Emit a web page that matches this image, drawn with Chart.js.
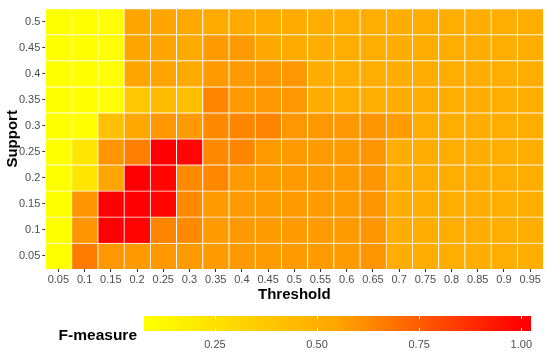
<!DOCTYPE html>
<html><head><meta charset="utf-8">
<script src="https://cdn.jsdelivr.net/npm/chart.js@4/dist/chart.umd.min.js"></script>
<style>
html,body{margin:0;padding:0;background:#fff;}
#wrap{position:relative;width:550px;height:357px;overflow:hidden;background:#fff;}
canvas{position:absolute;left:0;}
#main{top:0;}
#legend{top:302px;}
</style></head><body>
<div id="wrap"><canvas id="main" width="550" height="302"></canvas><canvas id="legend" width="550" height="55"></canvas></div>
<script>
// Categories
const thresholds = ['0.05','0.1','0.15','0.2','0.25','0.3','0.35','0.4','0.45','0.5','0.55','0.6','0.65','0.7','0.75','0.8','0.85','0.9','0.95'];
const supports = ['0.05','0.1','0.15','0.2','0.25','0.3','0.35','0.4','0.45','0.5'];

// F-measure per support row (bottom to top), one value per threshold
const fSupport005 = [0.10,0.667,0.585,0.582,0.585,0.578,0.580,0.582,0.578,0.580,0.578,0.580,0.595,0.510,0.508,0.510,0.512,0.510,0.508];
const fSupport010 = [0.10,0.594,1.000,0.990,0.637,0.624,0.580,0.582,0.580,0.580,0.578,0.580,0.595,0.510,0.510,0.508,0.510,0.512,0.510];
const fSupport015 = [0.10,0.594,1.000,1.000,0.990,0.624,0.580,0.580,0.580,0.580,0.578,0.580,0.595,0.510,0.508,0.510,0.510,0.510,0.512];
const fSupport020 = [0.10,0.225,0.550,1.000,0.990,0.624,0.628,0.580,0.580,0.580,0.580,0.580,0.595,0.510,0.510,0.510,0.508,0.510,0.510];
const fSupport025 = [0.10,0.225,0.594,0.650,1.000,0.980,0.624,0.632,0.580,0.580,0.580,0.580,0.595,0.510,0.510,0.512,0.510,0.508,0.510];
const fSupport030 = [0.10,0.100,0.415,0.535,0.585,0.580,0.624,0.632,0.637,0.585,0.585,0.585,0.590,0.575,0.510,0.510,0.510,0.510,0.510];
const fSupport035 = [0.10,0.100,0.100,0.375,0.440,0.415,0.637,0.580,0.585,0.585,0.510,0.510,0.510,0.510,0.510,0.510,0.510,0.510,0.510];
const fSupport040 = [0.10,0.100,0.100,0.550,0.550,0.525,0.580,0.580,0.585,0.585,0.510,0.510,0.510,0.510,0.510,0.510,0.510,0.510,0.510];
const fSupport045 = [0.10,0.100,0.100,0.550,0.550,0.525,0.580,0.580,0.530,0.520,0.510,0.510,0.510,0.510,0.510,0.510,0.510,0.510,0.510];
const fSupport050 = [0.10,0.100,0.100,0.550,0.550,0.535,0.525,0.525,0.520,0.520,0.510,0.510,0.510,0.510,0.510,0.510,0.510,0.510,0.510];
const fmeasure = [fSupport005,fSupport010,fSupport015,fSupport020,fSupport025,fSupport030,fSupport035,fSupport040,fSupport045,fSupport050];

// Legend
const legendTitle = 'F-measure';
const legendTicks = [0.25, 0.50, 0.75, 1.00];

const flat = fmeasure.flat();
const dmin = Math.min(...flat), dmax = Math.max(...flat);
const dmid = (dmin + dmax) / 2;
function colorFor(v){
  v = Math.max(dmin, Math.min(dmax, v));
  let g;
  if (v <= dmid) { const t = (v - dmin) / (dmid - dmin); g = 255 + (165 - 255) * t; }
  else { const t = (v - dmid) / (dmax - dmid); g = 165 * (1 - t); }
  g = Math.max(0, Math.min(255, Math.round(g)));
  return 'rgb(255,' + g + ',0)';
}

const FONT = "'Liberation Sans', Arial, sans-serif";
Chart.defaults.font.family = FONT;
Chart.defaults.animation = false;

new Chart(document.getElementById('main'), {
  type: 'bar',
  data: {
    labels: thresholds,
    datasets: supports.map((s, r) => ({
      label: s,
      data: thresholds.map(() => [r, r + 1]),
      backgroundColor: fmeasure[r].map(colorFor),
      borderColor: '#ffffff',
      borderWidth: {top: 1, left: 1, right: 0, bottom: 0},
      borderSkipped: false,
      barPercentage: 1,
      categoryPercentage: 1,
      grouped: false
    }))
  },
  options: {
    responsive: false,
    animation: false,
    events: [],
    layout: {padding: {left: 0, right: 6.7, top: 7, bottom: 0}},
    plugins: {legend: {display: false}, tooltip: {enabled: false}},
    scales: {
      x: {
        type: 'category', offset: true,
        grid: {offset: false, drawOnChartArea: false, drawTicks: true, tickLength: 3, color: '#333333'},
        border: {display: false},
        ticks: {color: '#4D4D4D', font: {size: 11}, padding: 1, maxRotation: 0, autoSkip: false},
        title: {display: true, text: 'Threshold', color: '#000000', font: {size: 15, weight: 'bold', lineHeight: 1}, padding: {top: 0, bottom: 0}},
        afterFit: s => { s.height = 33; }
      },
      y: {
        type: 'linear', min: 0, max: 10,
        afterBuildTicks: s => { s.ticks = supports.map((_, i) => ({value: i + 0.5})); },
        grid: {drawOnChartArea: false, drawTicks: true, tickLength: 3, color: '#333333'},
        border: {display: false},
        ticks: {color: '#4D4D4D', font: {size: 11}, padding: 2, callback: v => supports[Math.floor(v)]},
        title: {display: true, text: 'Support', color: '#000000', font: {size: 15, weight: 'bold'}, padding: {top: 4, bottom: 0}},
        afterFit: s => { s.width = 45.3; }
      }
    }
  }
});

const colorbarPlugin = {
  id: 'colorbar',
  beforeDraw(chart) {
    const {ctx, chartArea: a, scales: {x}} = chart;
    ctx.save();
    const grad = ctx.createLinearGradient(a.left, 0, a.right, 0);
    const n = 60;
    for (let i = 0; i <= n; i++) {
      const v = x.getValueForPixel(a.left + (a.right - a.left) * i / n);
      grad.addColorStop(i / n, colorFor(v));
    }
    ctx.fillStyle = grad;
    ctx.fillRect(a.left, a.top, a.right - a.left, a.bottom - a.top);
    ctx.strokeStyle = '#ffffff';
    ctx.lineWidth = 1;
    legendTicks.forEach(t => {
      const px = Math.round(x.getPixelForValue(t)) + 0.5;
      ctx.beginPath();
      ctx.moveTo(px, a.top); ctx.lineTo(px, a.top + 3);
      ctx.moveTo(px, a.bottom - 3); ctx.lineTo(px, a.bottom);
      ctx.stroke();
    });
    ctx.fillStyle = '#000000';
    ctx.font = 'bold 15.5px ' + FONT;
    ctx.textAlign = 'right';
    ctx.textBaseline = 'alphabetic';
    ctx.fillText(legendTitle, 137, 38);
    ctx.restore();
  }
};

const pad = (dmax - dmin) / 38;
new Chart(document.getElementById('legend'), {
  type: 'scatter',
  data: {datasets: []},
  options: {
    responsive: false,
    animation: false,
    events: [],
    layout: {padding: {left: 144, right: 19, top: 14, bottom: 0}},
    plugins: {legend: {display: false}, tooltip: {enabled: false}},
    scales: {
      x: {
        type: 'linear', min: dmin - pad, max: dmax + pad,
        afterBuildTicks: s => { s.ticks = legendTicks.map(v => ({value: v})); },
        grid: {display: false, drawTicks: false},
        border: {display: false},
        ticks: {color: '#4D4D4D', font: {size: 11}, padding: 7, maxRotation: 0, callback: v => v.toFixed(2)},
        afterFit: s => { s.height = 26; }
      },
      y: {display: false}
    }
  },
  plugins: [colorbarPlugin]
});
</script>
</body></html>
